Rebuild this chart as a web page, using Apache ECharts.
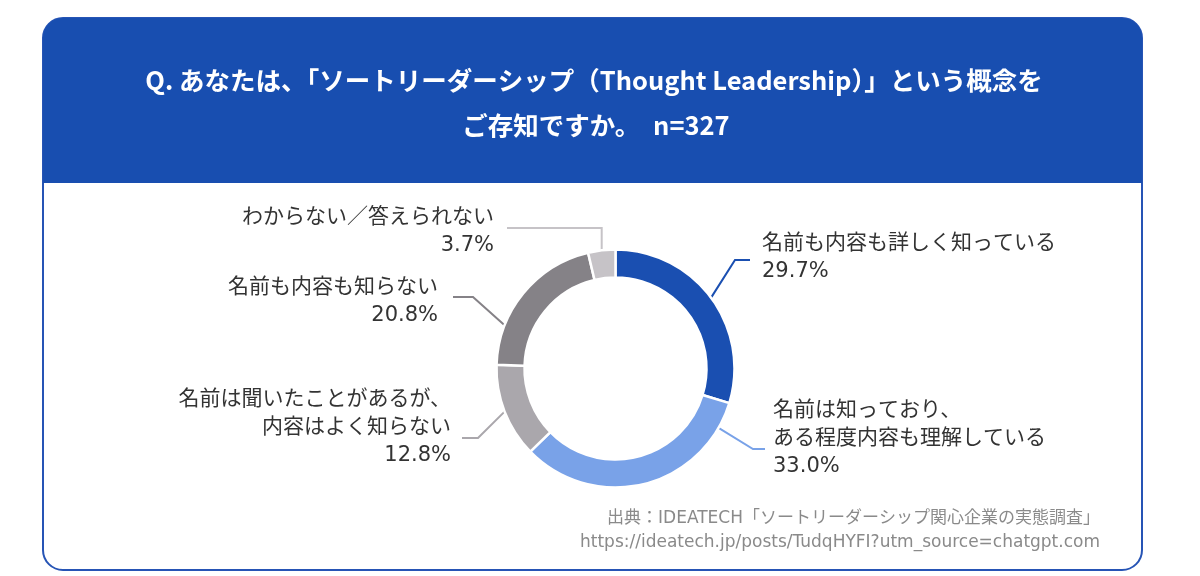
<!DOCTYPE html>
<html>
<head>
<meta charset="utf-8">
<title>ソートリーダーシップ 認知度</title>
<script src="https://cdn.jsdelivr.net/npm/echarts@6/dist/echarts.min.js"></script>
<style>
  html, body { margin: 0; padding: 0; background: #fff; }
  #main { width: 1200px; height: 576px; }
</style>
</head>
<body>
<div id="main"></div>
<script>
// 回答項目（12時から時計回り）
var categories = [
    '名前も内容も詳しく知っている',
    '名前は知っており、\nある程度内容も理解している',
    '名前は聞いたことがあるが、\n内容はよく知らない',
    '名前も内容も知らない',
    'わからない／答えられない'
];
var values = [29.7, 33.0, 12.8, 20.8, 3.7];
var colors = ['#1a4fb1', '#79a2e8', '#aaa7ac', '#858287', '#c6c3c7'];

var titleLines = [
    'Q. あなたは、「ソートリーダーシップ（Thought Leadership）」という概念を',
    'ご存知ですか。　n=327'
];
var sourceLines = [
    '出典：IDEATECH「ソートリーダーシップ関心企業の実態調査」',
    'https://ideatech.jp/posts/TudqHYFI?utm_source=chatgpt.com'
];

// ドーナツの位置・大きさ
var cx = 615.5, cy = 368.5, rIn = 91, rOut = 119;

// ラベルの置き場所（テキスト中心）と引き出し線
// frac = 線の出発点がスライスのどこか（0=始まり, 0.5=中央）
var labelPos = [
    { x: 762, y: 258, align: 'left',  frac: 0.5,  elbowX: 735,  lineY: 260, endX: 750 },
    { x: 773, y: 439, align: 'left',  frac: 0.11, elbowX: 753,  lineY: 449, endX: 765 },
    { x: 451, y: 428, align: 'right', frac: 0.5,  elbowX: 478,  lineY: 438, endX: 462 },
    { x: 438, y: 302, align: 'right', frac: 0.26, elbowX: 473,  lineY: 297, endX: 453 },
    { x: 494, y: 232, align: 'right', frac: 0.5,  elbowX: null, lineY: 228, endX: 507 }
];

var total = values.reduce(function (a, b) { return a + b; }, 0);
var startAngles = [];
var acc = 0;
values.forEach(function (v) {
    startAngles.push(90 - acc / total * 360);
    acc += v;
});

function anchorPoint(i) {
    var a = (startAngles[i] - labelPos[i].frac * values[i] / total * 360) * Math.PI / 180;
    return [cx + rOut * Math.cos(a), cy - rOut * Math.sin(a)];
}

var font = '"Noto Sans CJK JP", "Noto Sans", sans-serif';
// 数字・英字は幅の広いDejaVu、和文はNoto CJK
var mixFont = '"DejaVu Sans", "Noto Sans CJK JP", sans-serif';

var myChart = echarts.init(document.getElementById('main'));

var option = {
    animation: false,
    backgroundColor: '#fff',
    graphic: [
        {
            type: 'rect', z: -10,
            shape: { x: 43, y: 18, width: 1099, height: 552, r: 20 },
            style: { fill: '#fff', stroke: '#2654b5', lineWidth: 2 }
        },
        {
            type: 'rect', z: -9,
            shape: { x: 43, y: 18, width: 1099, height: 165, r: [20, 20, 0, 0] },
            style: { fill: '#184eb0' }
        },
        {
            type: 'text', z: 10, x: 594, y: 80,
            style: { text: titleLines[0], fill: '#fff', font: 'bold 25.5px ' + font, textAlign: 'center', textVerticalAlign: 'middle' }
        },
        {
            type: 'text', z: 10, x: 596, y: 125,
            style: { text: titleLines[1], fill: '#fff', font: 'bold 25.5px ' + font, textAlign: 'center', textVerticalAlign: 'middle' }
        },
        {
            type: 'text', z: 10, x: 1100, y: 519,
            style: { text: sourceLines[0], fill: '#8a8a8a', font: '17px ' + mixFont, textAlign: 'right', textVerticalAlign: 'middle' }
        },
        {
            type: 'text', z: 10, x: 1100, y: 543,
            style: { text: sourceLines[1], fill: '#8a8a8a', font: '17px ' + mixFont, textAlign: 'right', textVerticalAlign: 'middle' }
        }
    ],
    series: [
        {
            type: 'pie',
            center: [cx, cy],
            radius: [rIn, rOut],
            startAngle: 90,
            clockwise: true,
            avoidLabelOverlap: false,
            itemStyle: { borderColor: '#fff', borderWidth: 2.5 },
            label: {
                show: true,
                position: 'outside',
                color: '#333',
                fontSize: 21,
                lineHeight: 28,
                fontFamily: mixFont,
                formatter: function (p) {
                    return p.name + '\n' + p.value.toFixed(1) + '%';
                }
            },
            labelLine: { show: true, smooth: false, lineStyle: { width: 2 } },
            labelLayout: function (params) {
                var i = params.dataIndex;
                var L = labelPos[i];
                var s = anchorPoint(i);
                var ex = L.elbowX == null ? s[0] : L.elbowX;
                return {
                    x: L.x,
                    y: L.y,
                    align: L.align,
                    verticalAlign: 'middle',
                    labelLinePoints: [s, [ex, L.lineY], [L.endX, L.lineY]]
                };
            },
            data: categories.map(function (name, i) {
                return { name: name, value: values[i], itemStyle: { color: colors[i] } };
            })
        }
    ]
};

myChart.setOption(option);
</script>
</body>
</html>
